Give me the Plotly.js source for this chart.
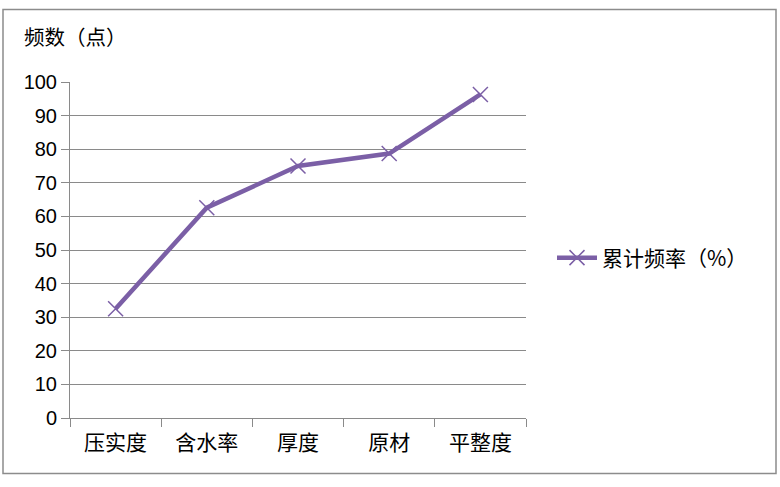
<!DOCTYPE html>
<html>
<head>
<meta charset="utf-8">
<script src="https://cdn.plot.ly/plotly-3.0.1.min.js"></script>
<style>html,body{margin:0;padding:0;background:#fff;}#chart{width:780px;height:487px;}</style>
</head>
<body>
<div id="chart"></div>
<script>
const categories = ["压实度", "含水率", "厚度", "原材", "平整度"];
const cumulativePercent = [32.5, 62.6, 75.0, 78.7, 96.3];
const seriesName = "累计频率（%）";
const yTickValues = [0, 10, 20, 30, 40, 50, 60, 70, 80, 90, 100];
const yTitle = "频数（点）";

const purple = "#7b5fa6";
const gray = "#8a8a8a";

const trace = {
  x: categories,
  y: cumulativePercent,
  type: "scatter",
  mode: "lines+markers",
  name: seriesName,
  line: {color: purple, width: 4.5},
  marker: {symbol: "x-thin", size: 15, color: purple, line: {color: purple, width: 1.5}}
};

const layout = {
  width: 780, height: 487,
  margin: {l: 70, r: 254, t: 81.7, b: 68.7, pad: 0},
  paper_bgcolor: "#fff", plot_bgcolor: "#fff",
  font: {family: "Noto Sans CJK SC, sans-serif", color: "#000", size: 20},
  title: {
    text: yTitle,
    xref: "container", yref: "container",
    x: 24 / 780, xanchor: "left",
    y: 1 - 38 / 487, yanchor: "middle",
    font: {family: "Noto Sans CJK SC, sans-serif", size: 20.5, color: "#000"}
  },
  xaxis: {
    type: "category",
    range: [-0.5, 4.5],
    tickson: "boundaries",
    ticks: "outside", ticklen: 8, tickcolor: gray, tickwidth: 1,
    ticklabelstandoff: 6,
    showline: true, linecolor: gray, linewidth: 1,
    showgrid: false, zeroline: false,
    tickfont: {family: "Noto Sans CJK SC, sans-serif", size: 21, color: "#000"},
    fixedrange: true
  },
  yaxis: {
    range: [0, 100],
    tickvals: yTickValues,
    ticks: "outside", ticklen: 8, tickcolor: gray, tickwidth: 1,
    showline: true, linecolor: gray, linewidth: 1,
    showgrid: true, gridcolor: gray, gridwidth: 1,
    zeroline: false,
    tickfont: {family: "Liberation Sans, Arial, sans-serif", size: 20, color: "#000"},
    fixedrange: true
  },
  showlegend: true,
  legend: {
    x: (552 - 70) / 456, xanchor: "left",
    y: (418.3 - 258) / 336.6, yanchor: "middle",
    bgcolor: "rgba(0,0,0,0)",
    font: {family: "Noto Sans CJK SC, sans-serif", size: 21, color: "#000"},
    itemwidth: 40
  },
  shapes: [{
    type: "rect", xref: "paper", yref: "paper",
    x0: (3 - 70) / 456, x1: (776 - 70) / 456,
    y0: (418.3 - 474) / 336.6, y1: (418.3 - 9) / 336.6,
    line: {color: "#8c8c8c", width: 1.5},
    fillcolor: "rgba(0,0,0,0)", layer: "below"
  }]
};

Plotly.newPlot("chart", [trace], layout, {displayModeBar: false, staticPlot: true});
</script>
</body>
</html>
